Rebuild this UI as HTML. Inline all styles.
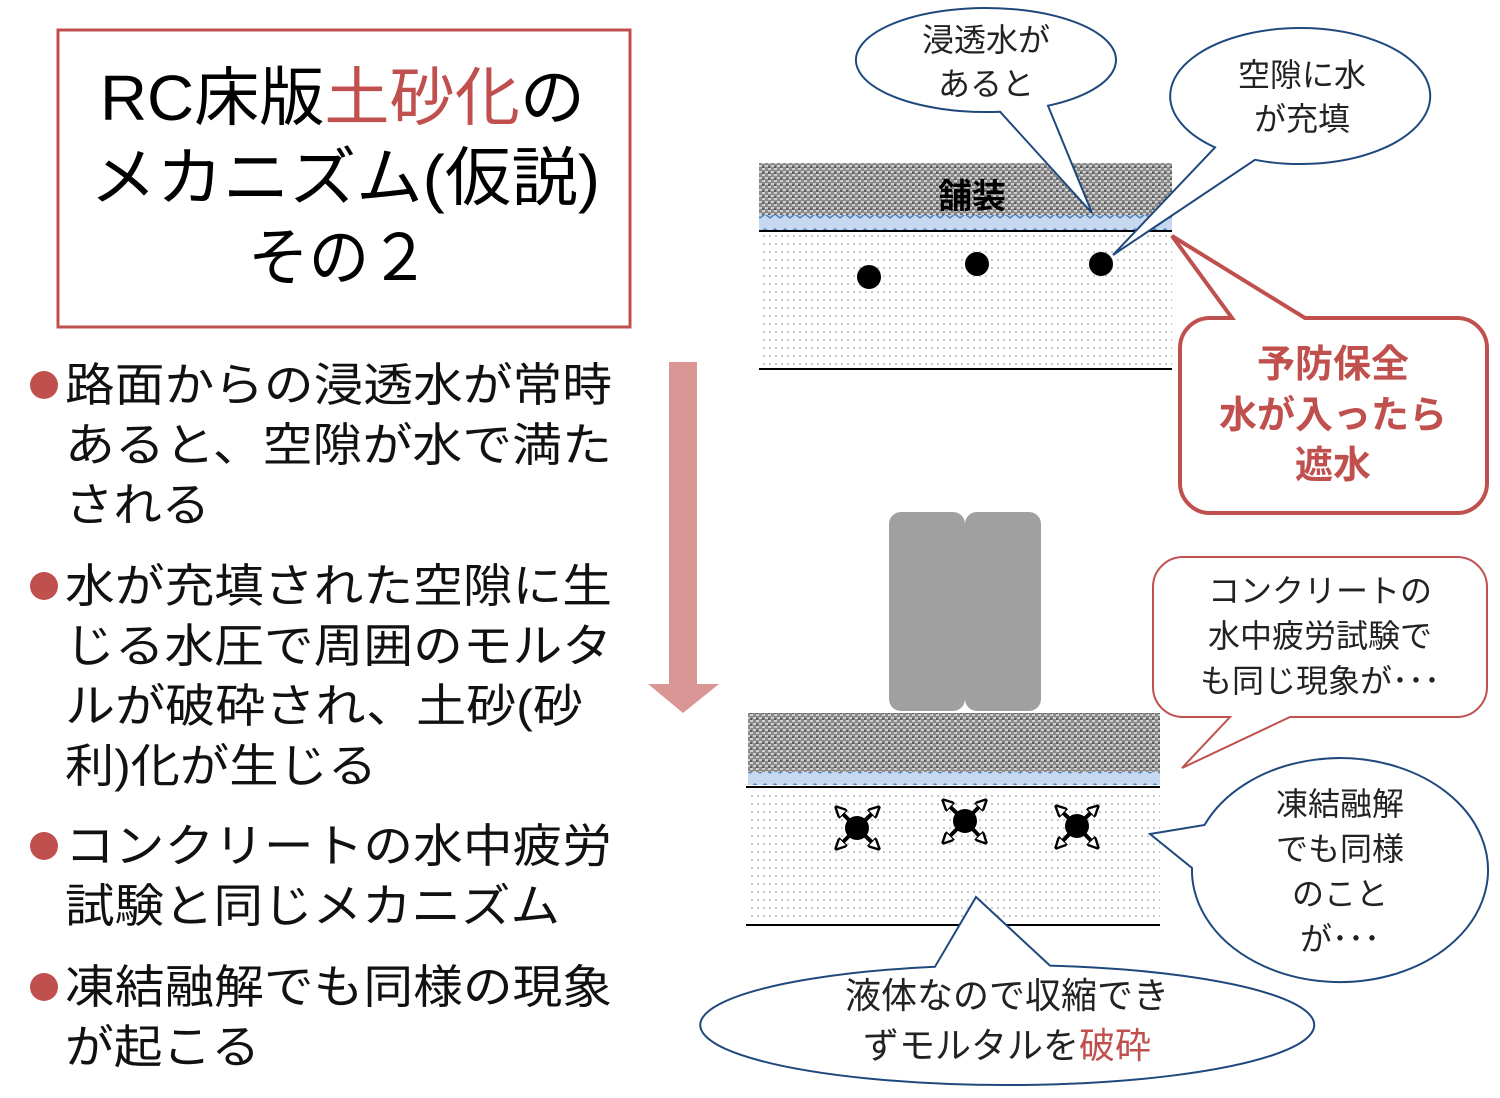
<!DOCTYPE html>
<html><head><meta charset="utf-8"><style>
html,body{margin:0;padding:0;background:#fff}
svg{display:block}
text{font-family:"Liberation Sans","Noto Sans CJK JP",sans-serif}
</style></head><body>
<svg width="1500" height="1098" viewBox="0 0 1500 1098" xmlns="http://www.w3.org/2000/svg">
<defs>
<pattern id="pave" width="6" height="6" patternUnits="userSpaceOnUse">
<rect width="6" height="6" fill="#8a8a8a"/><rect width="3" height="2" fill="#d0d0d0"/><rect x="3" y="3" width="3" height="2" fill="#cfcfcf"/><rect x="0" y="4" width="2" height="2" fill="#5a5a5a"/>
</pattern>
<pattern id="dots" width="6" height="8" patternUnits="userSpaceOnUse">
<rect width="6" height="8" fill="#fff"/><rect x="1" y="3" width="2" height="2" fill="#c8c8c8"/>
</pattern>
<pattern id="wave" width="10" height="15" patternUnits="userSpaceOnUse">
<rect width="10" height="15" fill="#c6d9f1"/><path d="M0 8 L5 4 L10 8" stroke="#4f81bd" stroke-width="1.5" fill="none"/>
</pattern>
<marker id="ah" viewBox="0 0 10 10" refX="9" refY="5" markerWidth="3" markerHeight="3" orient="auto"><path d="M0 0 L10 5 L0 10 Z" fill="#fff" stroke="#000" stroke-width="2"/></marker>
</defs>

<rect x="58" y="30" width="572" height="297" fill="#fff" stroke="#c0504d" stroke-width="3"/>
<text x="100" y="120" font-size="64" textLength="485" lengthAdjust="spacingAndGlyphs">RC床版<tspan fill="#c0504d">土砂化</tspan>の</text>
<text x="90" y="200" font-size="64" textLength="510" lengthAdjust="spacingAndGlyphs">メカニズム(仮説)</text>
<text x="248" y="280" font-size="64" textLength="182" lengthAdjust="spacingAndGlyphs">その２</text>

<g font-size="46" fill="#111">
<circle cx="44" cy="385" r="14" fill="#c0504d"/>
<text x="65" y="401" textLength="547" lengthAdjust="spacingAndGlyphs">路面からの浸透水が常時</text>
<text x="65" y="461" textLength="547" lengthAdjust="spacingAndGlyphs">あると、空隙が水で満た</text>
<text x="65" y="521" textLength="145" lengthAdjust="spacingAndGlyphs">される</text>
<circle cx="44" cy="586" r="14" fill="#c0504d"/>
<text x="65" y="602" textLength="547" lengthAdjust="spacingAndGlyphs">水が充填された空隙に生</text>
<text x="65" y="662" textLength="547" lengthAdjust="spacingAndGlyphs">じる水圧で周囲のモルタ</text>
<text x="65" y="722" textLength="518" lengthAdjust="spacingAndGlyphs">ルが破砕され、土砂(砂</text>
<text x="65" y="782" textLength="312" lengthAdjust="spacingAndGlyphs">利)化が生じる</text>
<circle cx="44" cy="846" r="14" fill="#c0504d"/>
<text x="65" y="862" textLength="547" lengthAdjust="spacingAndGlyphs">コンクリートの水中疲労</text>
<text x="65" y="922" textLength="495" lengthAdjust="spacingAndGlyphs">試験と同じメカニズム</text>
<circle cx="44" cy="987" r="14" fill="#c0504d"/>
<text x="65" y="1003" textLength="547" lengthAdjust="spacingAndGlyphs">凍結融解でも同様の現象</text>
<text x="65" y="1063" textLength="195" lengthAdjust="spacingAndGlyphs">が起こる</text>
</g>

<path d="M669 362 L697 362 L697 684 L719 684 L683 713 L648 684 L669 684 Z" fill="#d99694"/>

<rect x="759" y="163" width="413" height="52" fill="url(#pave)"/>
<rect x="759" y="215" width="413" height="15" fill="url(#wave)"/>
<rect x="759" y="233" width="413" height="135" fill="url(#dots)"/>
<line x1="759" y1="231" x2="1172" y2="231" stroke="#000" stroke-width="2"/>
<line x1="759" y1="369" x2="1172" y2="369" stroke="#000" stroke-width="2"/>
<text x="972" y="208" font-size="34" font-weight="bold" text-anchor="middle" fill="#000">舗装</text>
<circle cx="869" cy="277" r="12" fill="#000"/>
<circle cx="977" cy="264" r="12" fill="#000"/>
<circle cx="1101" cy="264" r="12" fill="#000"/>

<rect x="889" y="512" width="76" height="199" rx="12" fill="#a0a0a0"/>
<rect x="965" y="512" width="76" height="199" rx="12" fill="#a0a0a0"/>
<rect x="748" y="713" width="412" height="59" fill="url(#pave)"/>
<rect x="748" y="772" width="412" height="13" fill="url(#wave)"/>
<rect x="748" y="789" width="412" height="134" fill="url(#dots)"/>
<line x1="746" y1="787" x2="1160" y2="787" stroke="#000" stroke-width="2"/>
<line x1="746" y1="925" x2="1160" y2="925" stroke="#000" stroke-width="2"/>
<g stroke="#000" stroke-width="4" marker-end="url(#ah)">
<line x1="857" y1="828" x2="836" y2="807"/><line x1="857" y1="828" x2="879" y2="807"/><line x1="857" y1="828" x2="836" y2="849"/><line x1="857" y1="828" x2="879" y2="849"/>
<line x1="965" y1="821" x2="943" y2="800"/><line x1="965" y1="821" x2="986" y2="800"/><line x1="965" y1="821" x2="943" y2="843"/><line x1="965" y1="821" x2="986" y2="843"/>
<line x1="1077" y1="826" x2="1056" y2="806"/><line x1="1077" y1="826" x2="1098" y2="806"/><line x1="1077" y1="826" x2="1056" y2="848"/><line x1="1077" y1="826" x2="1098" y2="848"/>
</g>
<circle cx="857" cy="828" r="12" fill="#000"/>
<circle cx="965" cy="821" r="12" fill="#000"/>
<circle cx="1077" cy="826" r="12" fill="#000"/>

<g stroke="#1f497d" stroke-width="2" fill="#fff">
<path d="M1000 111.7 A130 52 0 1 1 1048 105.7 L1092 213 Z"/>
<path d="M1215 147.4 A130 68 0 1 1 1255 159.8 L1113 255 Z"/>
<path d="M1204.5 825 A148 112 0 1 1 1192 868 L1150 834 Z"/>
<path d="M935 966.7 A307 60 0 1 0 1050 965.6 L976 897 Z"/>
</g>
<g font-size="32" fill="#222" text-anchor="middle">
<text x="986" y="51">浸透水が</text>
<text x="986" y="95">あると</text>
<text x="1302" y="86">空隙に水</text>
<text x="1302" y="130">が充填</text>
<text x="1340" y="815">凍結融解</text>
<text x="1340" y="860">でも同様</text>
<text x="1340" y="905">のこと</text>
<text x="1340" y="950">が･･･</text>
<text x="1007" y="1008" font-size="36">液体なので収縮でき</text>
<text x="1007" y="1058" font-size="36">ずモルタルを<tspan fill="#c0504d">破砕</tspan></text>
</g>

<path d="M1210 318 L1232 318 L1172 236 L1305 318 L1457 318 A30 30 0 0 1 1487 348 L1487 483 A30 30 0 0 1 1457 513 L1210 513 A30 30 0 0 1 1180 483 L1180 348 A30 30 0 0 1 1210 318 Z" fill="#fff" stroke="#c0504d" stroke-width="4"/>
<g font-size="38" font-weight="bold" fill="#c0504d" text-anchor="middle">
<text x="1333" y="377">予防保全</text>
<text x="1333" y="428">水が入ったら</text>
<text x="1333" y="478">遮水</text>
</g>

<path d="M1183 557 L1457 557 A30 30 0 0 1 1487 587 L1487 687 A30 30 0 0 1 1457 717 L1290 717 L1182 768 L1230 717 L1183 717 A30 30 0 0 1 1153 687 L1153 587 A30 30 0 0 1 1183 557 Z" fill="#fff" stroke="#c0504d" stroke-width="2"/>
<g font-size="32" fill="#222" text-anchor="middle">
<text x="1320" y="602">コンクリートの</text>
<text x="1320" y="647">水中疲労試験で</text>
<text x="1320" y="692">も同じ現象が･･･</text>
</g>
</svg>
</body></html>
